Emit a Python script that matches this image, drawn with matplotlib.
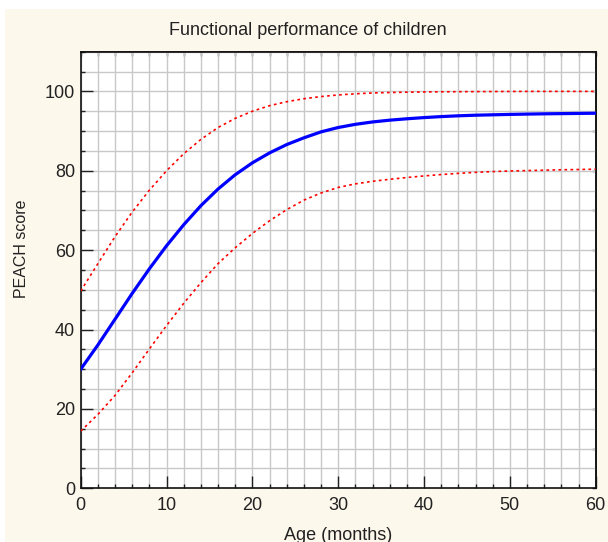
import matplotlib
matplotlib.use("Agg")
import matplotlib.pyplot as plt
from matplotlib.patches import Rectangle
import numpy as np

# ---- data ----
age = [0, 2, 4, 6, 8, 10, 12, 14, 16, 18, 20, 22, 24, 26, 28, 30,
       32, 34, 36, 38, 40, 42, 44, 46, 48, 50, 52, 54, 56, 58, 60]
fitted = [30.0, 36.1, 42.6, 49.1, 55.3, 61.1, 66.4, 71.2, 75.4, 79.0, 82.0,
          84.5, 86.6, 88.3, 89.8, 90.9, 91.7, 92.3, 92.75, 93.1, 93.4,
          93.65, 93.85, 94.0, 94.1, 94.2, 94.28, 94.35, 94.4, 94.45, 94.5]
upper = [49.7, 56.6, 63.4, 69.6, 75.1, 80.0, 84.3, 87.9, 90.9, 93.2, 95.0,
         96.4, 97.4, 98.15, 98.7, 99.1, 99.4, 99.6, 99.72, 99.8, 99.86,
         99.9, 99.93, 99.95, 99.97, 99.98, 100.0, 100.0, 100.0, 100.0, 100.0]
lower = [14.4, 18.6, 23.4, 29.1, 35.1, 41.0, 46.6, 51.8, 56.6, 60.6, 64.2,
         67.4, 70.2, 72.6, 74.4, 75.8, 76.7, 77.35, 77.85, 78.3, 78.7,
         79.05, 79.35, 79.6, 79.8, 79.95, 80.05, 80.15, 80.25, 80.32, 80.4]

title = "Functional performance of children"
xlabel = "Age (months)"
ylabel = "PEACH score"

plt.rcParams['font.family'] = ['Liberation Sans', 'DejaVu Sans']

W, H = 608, 542
fig = plt.figure(figsize=(W / 100, H / 100), dpi=100)
fig.patch.set_facecolor('white')
# cream panel with thin white strip on top and left
bg = Rectangle((5 / W, 0), 1 - 5 / W, 1 - 9 / H,
               transform=fig.transFigure, facecolor='#FDF8EC',
               edgecolor='none', zorder=-10)
fig.patches.append(bg)

ax = fig.add_axes([80.7 / W, 1 - 488.3 / H, (595.7 - 80.7) / W, (488.3 - 51.7) / H])
ax.set_zorder(1)
ax.set_facecolor('white')

ax.plot(age, upper, color='#FF0000', lw=1.2, linestyle=(0, (1.6, 2.0)), zorder=3)
ax.plot(age, lower, color='#FF0000', lw=1.2, linestyle=(0, (1.6, 2.0)), zorder=3)
ax.plot(age, fitted, color='#0000FF', lw=2.3, zorder=4, solid_joinstyle='round')

ax.set_xlim(0, 60)
ax.set_ylim(0, 110)
ax.set_xticks(np.arange(0, 61, 10))
ax.set_xticks(np.arange(0, 61, 2), minor=True)
ax.set_yticks(np.arange(0, 101, 20))
ax.set_yticks(np.arange(0, 111, 5), minor=True)

ax.grid(True, which='both', color='#C8C8C8', lw=1.0, zorder=0)
ax.set_axisbelow(True)

ax.tick_params(which='major', direction='in', length=8.5, width=1.0,
               labelsize=13, colors='#222222', pad=4)
ax.tick_params(which='minor', direction='in', length=3, width=1.0, colors='#222222')
ax.tick_params(axis='x', which='major', pad=6)

sx = ax.secondary_xaxis('top')
sx.set_xticks(np.arange(0, 61, 2))
sx.tick_params(direction='in', length=3, width=1.0, labeltop=False, colors='#222222')
sy = ax.secondary_yaxis('right')
sy.set_yticks(np.arange(0, 111, 10))
sy.tick_params(direction='in', length=3, width=1.0, labelright=False, colors='#222222')
for s in list(ax.spines.values()) + [sx.spines['top'], sy.spines['right']]:
    s.set_color('#111111')
    s.set_linewidth(1.2)

fig.text(308 / W, 1 - 35 / H, title, ha='center', va='baseline',
         fontsize=13, color='#222222')
fig.text(338.2 / W, 1.5 / H, xlabel, ha='center', va='baseline',
         fontsize=13, color='#222222')
fig.text(21 / W, 1 - 249 / H, ylabel, ha='center', va='center', rotation=90,
         fontsize=11.5, color='#222222')

fig.savefig('out.png', dpi=100, facecolor=fig.get_facecolor())
